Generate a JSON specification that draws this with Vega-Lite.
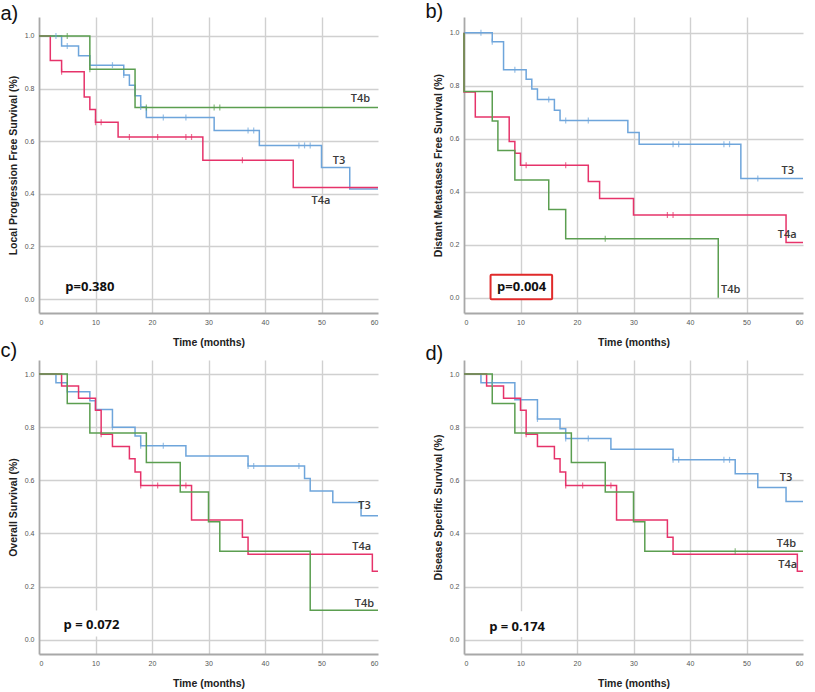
{
  "$schema": "https://vega.github.io/schema/vega-lite/v6.json",
  "padding": {"left": 0, "top": 2, "right": 5, "bottom": 4},
  "background": "white",
  "config": {
    "view": {"stroke": null},
    "axis": {
      "grid": true,
      "gridColor": "#d0d0d0",
      "gridWidth": 1.4,
      "domainColor": "#a8a8a8",
      "domainWidth": 1.8,
      "ticks": false,
      "labelFont": "Liberation Sans",
      "labelFontSize": 7,
      "labelColor": "#555555",
      "labelPadding": 5,
      "titleFont": "Liberation Sans",
      "titleFontSize": 10.5,
      "titleFontWeight": "bold",
      "titleColor": "#222222"
    },
    "axisX": {"titlePadding": 12},
    "axisY": {"titlePadding": 6},
    "title": {"anchor": "start", "frame": "group", "font": "Liberation Sans", "fontSize": 20, "fontWeight": "normal", "color": "#111111", "offset": 0, "baseline": "top"}
  },
  "datasets": {
    "km": [
      {"panel": "a", "group": "T3", "t": 0, "s": 1},
      {"panel": "a", "group": "T3", "t": 4, "s": 0.962},
      {"panel": "a", "group": "T3", "t": 7, "s": 0.925},
      {"panel": "a", "group": "T3", "t": 9, "s": 0.889},
      {"panel": "a", "group": "T3", "t": 15, "s": 0.852},
      {"panel": "a", "group": "T3", "t": 16, "s": 0.813},
      {"panel": "a", "group": "T3", "t": 17, "s": 0.773},
      {"panel": "a", "group": "T3", "t": 18, "s": 0.73},
      {"panel": "a", "group": "T3", "t": 19, "s": 0.69},
      {"panel": "a", "group": "T3", "t": 31, "s": 0.641},
      {"panel": "a", "group": "T3", "t": 39, "s": 0.584},
      {"panel": "a", "group": "T3", "t": 50, "s": 0.5},
      {"panel": "a", "group": "T3", "t": 55, "s": 0.418},
      {"panel": "a", "group": "T3", "t": 60, "s": 0.418},
      {"panel": "a", "group": "T4a", "t": 0, "s": 1},
      {"panel": "a", "group": "T4a", "t": 2, "s": 0.907},
      {"panel": "a", "group": "T4a", "t": 4, "s": 0.864},
      {"panel": "a", "group": "T4a", "t": 8, "s": 0.768},
      {"panel": "a", "group": "T4a", "t": 9, "s": 0.72},
      {"panel": "a", "group": "T4a", "t": 10, "s": 0.672},
      {"panel": "a", "group": "T4a", "t": 14, "s": 0.616},
      {"panel": "a", "group": "T4a", "t": 29, "s": 0.528},
      {"panel": "a", "group": "T4a", "t": 45, "s": 0.424},
      {"panel": "a", "group": "T4a", "t": 60, "s": 0.424},
      {"panel": "a", "group": "T4b", "t": 0, "s": 1},
      {"panel": "a", "group": "T4b", "t": 9, "s": 0.873},
      {"panel": "a", "group": "T4b", "t": 17, "s": 0.728},
      {"panel": "a", "group": "T4b", "t": 60, "s": 0.728},

      {"panel": "b", "group": "T3", "t": 0, "s": 1},
      {"panel": "b", "group": "T3", "t": 5, "s": 0.966},
      {"panel": "b", "group": "T3", "t": 7, "s": 0.86},
      {"panel": "b", "group": "T3", "t": 11, "s": 0.824},
      {"panel": "b", "group": "T3", "t": 12, "s": 0.787},
      {"panel": "b", "group": "T3", "t": 13, "s": 0.748},
      {"panel": "b", "group": "T3", "t": 16, "s": 0.707},
      {"panel": "b", "group": "T3", "t": 17, "s": 0.668},
      {"panel": "b", "group": "T3", "t": 29, "s": 0.623},
      {"panel": "b", "group": "T3", "t": 31, "s": 0.579},
      {"panel": "b", "group": "T3", "t": 49, "s": 0.45},
      {"panel": "b", "group": "T3", "t": 60, "s": 0.45},
      {"panel": "b", "group": "T4a", "t": 0, "s": 1},
      {"panel": "b", "group": "T4a", "t": 0, "s": 0.776},
      {"panel": "b", "group": "T4a", "t": 2, "s": 0.682},
      {"panel": "b", "group": "T4a", "t": 8, "s": 0.589},
      {"panel": "b", "group": "T4a", "t": 9, "s": 0.545},
      {"panel": "b", "group": "T4a", "t": 10, "s": 0.5},
      {"panel": "b", "group": "T4a", "t": 22, "s": 0.438},
      {"panel": "b", "group": "T4a", "t": 24, "s": 0.374},
      {"panel": "b", "group": "T4a", "t": 30, "s": 0.312},
      {"panel": "b", "group": "T4a", "t": 57, "s": 0.208},
      {"panel": "b", "group": "T4a", "t": 60, "s": 0.208},
      {"panel": "b", "group": "T4b", "t": 0, "s": 1},
      {"panel": "b", "group": "T4b", "t": 0, "s": 0.778},
      {"panel": "b", "group": "T4b", "t": 5, "s": 0.667},
      {"panel": "b", "group": "T4b", "t": 6, "s": 0.555},
      {"panel": "b", "group": "T4b", "t": 9, "s": 0.444},
      {"panel": "b", "group": "T4b", "t": 15, "s": 0.333},
      {"panel": "b", "group": "T4b", "t": 18, "s": 0.222},
      {"panel": "b", "group": "T4b", "t": 45, "s": 0},

      {"panel": "c", "group": "T3", "t": 0, "s": 1},
      {"panel": "c", "group": "T3", "t": 3, "s": 0.967},
      {"panel": "c", "group": "T3", "t": 5, "s": 0.933},
      {"panel": "c", "group": "T3", "t": 9, "s": 0.9},
      {"panel": "c", "group": "T3", "t": 10, "s": 0.867},
      {"panel": "c", "group": "T3", "t": 13, "s": 0.8},
      {"panel": "c", "group": "T3", "t": 17, "s": 0.767},
      {"panel": "c", "group": "T3", "t": 18, "s": 0.73},
      {"panel": "c", "group": "T3", "t": 26, "s": 0.692},
      {"panel": "c", "group": "T3", "t": 37, "s": 0.654},
      {"panel": "c", "group": "T3", "t": 47, "s": 0.607},
      {"panel": "c", "group": "T3", "t": 48, "s": 0.56},
      {"panel": "c", "group": "T3", "t": 52, "s": 0.516},
      {"panel": "c", "group": "T3", "t": 57, "s": 0.467},
      {"panel": "c", "group": "T3", "t": 60, "s": 0.467},
      {"panel": "c", "group": "T4a", "t": 0, "s": 1},
      {"panel": "c", "group": "T4a", "t": 4, "s": 0.955},
      {"panel": "c", "group": "T4a", "t": 7, "s": 0.909},
      {"panel": "c", "group": "T4a", "t": 10, "s": 0.864},
      {"panel": "c", "group": "T4a", "t": 11, "s": 0.773},
      {"panel": "c", "group": "T4a", "t": 13, "s": 0.727},
      {"panel": "c", "group": "T4a", "t": 16, "s": 0.681},
      {"panel": "c", "group": "T4a", "t": 17, "s": 0.631},
      {"panel": "c", "group": "T4a", "t": 18, "s": 0.58},
      {"panel": "c", "group": "T4a", "t": 27, "s": 0.451},
      {"panel": "c", "group": "T4a", "t": 36, "s": 0.386},
      {"panel": "c", "group": "T4a", "t": 37, "s": 0.322},
      {"panel": "c", "group": "T4a", "t": 59, "s": 0.258},
      {"panel": "c", "group": "T4a", "t": 60, "s": 0.258},
      {"panel": "c", "group": "T4b", "t": 0, "s": 1},
      {"panel": "c", "group": "T4b", "t": 5, "s": 0.889},
      {"panel": "c", "group": "T4b", "t": 9, "s": 0.778},
      {"panel": "c", "group": "T4b", "t": 19, "s": 0.667},
      {"panel": "c", "group": "T4b", "t": 25, "s": 0.556},
      {"panel": "c", "group": "T4b", "t": 30, "s": 0.444},
      {"panel": "c", "group": "T4b", "t": 32, "s": 0.333},
      {"panel": "c", "group": "T4b", "t": 48, "s": 0.111},
      {"panel": "c", "group": "T4b", "t": 60, "s": 0.111},

      {"panel": "d", "group": "T3", "t": 0, "s": 1},
      {"panel": "d", "group": "T3", "t": 3, "s": 0.967},
      {"panel": "d", "group": "T3", "t": 9, "s": 0.903},
      {"panel": "d", "group": "T3", "t": 13, "s": 0.831},
      {"panel": "d", "group": "T3", "t": 17, "s": 0.794},
      {"panel": "d", "group": "T3", "t": 18, "s": 0.757},
      {"panel": "d", "group": "T3", "t": 26, "s": 0.717},
      {"panel": "d", "group": "T3", "t": 37, "s": 0.677},
      {"panel": "d", "group": "T3", "t": 48, "s": 0.625},
      {"panel": "d", "group": "T3", "t": 52, "s": 0.573},
      {"panel": "d", "group": "T3", "t": 57, "s": 0.52},
      {"panel": "d", "group": "T3", "t": 60, "s": 0.52},
      {"panel": "d", "group": "T4a", "t": 0, "s": 1},
      {"panel": "d", "group": "T4a", "t": 4, "s": 0.955},
      {"panel": "d", "group": "T4a", "t": 7, "s": 0.909},
      {"panel": "d", "group": "T4a", "t": 10, "s": 0.864},
      {"panel": "d", "group": "T4a", "t": 11, "s": 0.773},
      {"panel": "d", "group": "T4a", "t": 13, "s": 0.727},
      {"panel": "d", "group": "T4a", "t": 16, "s": 0.681},
      {"panel": "d", "group": "T4a", "t": 17, "s": 0.631},
      {"panel": "d", "group": "T4a", "t": 18, "s": 0.58},
      {"panel": "d", "group": "T4a", "t": 27, "s": 0.451},
      {"panel": "d", "group": "T4a", "t": 36, "s": 0.386},
      {"panel": "d", "group": "T4a", "t": 37, "s": 0.322},
      {"panel": "d", "group": "T4a", "t": 59, "s": 0.258},
      {"panel": "d", "group": "T4a", "t": 60, "s": 0.258},
      {"panel": "d", "group": "T4b", "t": 0, "s": 1},
      {"panel": "d", "group": "T4b", "t": 5, "s": 0.889},
      {"panel": "d", "group": "T4b", "t": 9, "s": 0.778},
      {"panel": "d", "group": "T4b", "t": 19, "s": 0.667},
      {"panel": "d", "group": "T4b", "t": 25, "s": 0.556},
      {"panel": "d", "group": "T4b", "t": 30, "s": 0.444},
      {"panel": "d", "group": "T4b", "t": 32, "s": 0.333},
      {"panel": "d", "group": "T4b", "t": 60, "s": 0.333}
    ],
    "cens": [
      {"panel": "a", "group": "T3", "t": 3, "s": 1},
      {"panel": "a", "group": "T3", "t": 5, "s": 0.962},
      {"panel": "a", "group": "T3", "t": 13, "s": 0.889},
      {"panel": "a", "group": "T3", "t": 15, "s": 0.852},
      {"panel": "a", "group": "T3", "t": 18, "s": 0.73},
      {"panel": "a", "group": "T3", "t": 22, "s": 0.69},
      {"panel": "a", "group": "T3", "t": 26, "s": 0.69},
      {"panel": "a", "group": "T3", "t": 37, "s": 0.641},
      {"panel": "a", "group": "T3", "t": 38, "s": 0.641},
      {"panel": "a", "group": "T3", "t": 46, "s": 0.584},
      {"panel": "a", "group": "T3", "t": 47, "s": 0.584},
      {"panel": "a", "group": "T3", "t": 48, "s": 0.584},
      {"panel": "a", "group": "T4a", "t": 4, "s": 0.864},
      {"panel": "a", "group": "T4a", "t": 10, "s": 0.672},
      {"panel": "a", "group": "T4a", "t": 11, "s": 0.672},
      {"panel": "a", "group": "T4a", "t": 16, "s": 0.616},
      {"panel": "a", "group": "T4a", "t": 21, "s": 0.616},
      {"panel": "a", "group": "T4a", "t": 26, "s": 0.616},
      {"panel": "a", "group": "T4a", "t": 27, "s": 0.616},
      {"panel": "a", "group": "T4a", "t": 36, "s": 0.528},
      {"panel": "a", "group": "T4b", "t": 5, "s": 1},
      {"panel": "a", "group": "T4b", "t": 9, "s": 0.873},
      {"panel": "a", "group": "T4b", "t": 19, "s": 0.728},
      {"panel": "a", "group": "T4b", "t": 31, "s": 0.728},
      {"panel": "a", "group": "T4b", "t": 32, "s": 0.728},

      {"panel": "b", "group": "T3", "t": 3, "s": 1},
      {"panel": "b", "group": "T3", "t": 5, "s": 0.966},
      {"panel": "b", "group": "T3", "t": 9, "s": 0.86},
      {"panel": "b", "group": "T3", "t": 15, "s": 0.748},
      {"panel": "b", "group": "T3", "t": 18, "s": 0.668},
      {"panel": "b", "group": "T3", "t": 22, "s": 0.668},
      {"panel": "b", "group": "T3", "t": 37, "s": 0.579},
      {"panel": "b", "group": "T3", "t": 38, "s": 0.579},
      {"panel": "b", "group": "T3", "t": 46, "s": 0.579},
      {"panel": "b", "group": "T3", "t": 47, "s": 0.579},
      {"panel": "b", "group": "T3", "t": 52, "s": 0.45},
      {"panel": "b", "group": "T4a", "t": 11, "s": 0.5},
      {"panel": "b", "group": "T4a", "t": 18, "s": 0.5},
      {"panel": "b", "group": "T4a", "t": 36, "s": 0.312},
      {"panel": "b", "group": "T4a", "t": 37, "s": 0.312},
      {"panel": "b", "group": "T4b", "t": 25, "s": 0.222},

      {"panel": "c", "group": "T3", "t": 13, "s": 0.8},
      {"panel": "c", "group": "T3", "t": 18, "s": 0.73},
      {"panel": "c", "group": "T3", "t": 22, "s": 0.73},
      {"panel": "c", "group": "T3", "t": 37, "s": 0.654},
      {"panel": "c", "group": "T3", "t": 38, "s": 0.654},
      {"panel": "c", "group": "T3", "t": 46, "s": 0.654},
      {"panel": "c", "group": "T4a", "t": 11, "s": 0.773},
      {"panel": "c", "group": "T4a", "t": 18, "s": 0.58},
      {"panel": "c", "group": "T4a", "t": 21, "s": 0.58},
      {"panel": "c", "group": "T4a", "t": 26, "s": 0.58},

      {"panel": "d", "group": "T3", "t": 5, "s": 0.967},
      {"panel": "d", "group": "T3", "t": 13, "s": 0.831},
      {"panel": "d", "group": "T3", "t": 18, "s": 0.757},
      {"panel": "d", "group": "T3", "t": 22, "s": 0.757},
      {"panel": "d", "group": "T3", "t": 37, "s": 0.677},
      {"panel": "d", "group": "T3", "t": 38, "s": 0.677},
      {"panel": "d", "group": "T3", "t": 46, "s": 0.677},
      {"panel": "d", "group": "T3", "t": 47, "s": 0.677},
      {"panel": "d", "group": "T4a", "t": 11, "s": 0.773},
      {"panel": "d", "group": "T4a", "t": 18, "s": 0.58},
      {"panel": "d", "group": "T4a", "t": 21, "s": 0.58},
      {"panel": "d", "group": "T4a", "t": 26, "s": 0.58},
      {"panel": "d", "group": "T4b", "t": 48, "s": 0.333}
    ],
    "labels": [
      {"panel": "a", "kind": "curve", "label": "T4b", "t": 56.9, "s": 0.759},
      {"panel": "a", "kind": "curve", "label": "T3", "t": 53.1, "s": 0.526},
      {"panel": "a", "kind": "curve", "label": "T4a", "t": 49.9, "s": 0.373},
      {"panel": "a", "kind": "p", "label": "p=0.380", "t": 9.0, "s": 0.044},
      {"panel": "b", "kind": "curve", "label": "T3", "t": 57.3, "s": 0.479},
      {"panel": "b", "kind": "curve", "label": "T4a", "t": 57.2, "s": 0.237},
      {"panel": "b", "kind": "curve", "label": "T4b", "t": 47.2, "s": 0.029},
      {"panel": "b", "kind": "p", "label": "p=0.004", "t": 10.2, "s": 0.042},
      {"panel": "c", "kind": "curve", "label": "T3", "t": 57.6, "s": 0.505},
      {"panel": "c", "kind": "curve", "label": "T4a", "t": 57.1, "s": 0.348},
      {"panel": "c", "kind": "curve", "label": "T4b", "t": 57.6, "s": 0.134},
      {"panel": "c", "kind": "p", "label": "p = 0.072", "t": 9.3, "s": 0.056},
      {"panel": "d", "kind": "curve", "label": "T3", "t": 57.0, "s": 0.61},
      {"panel": "d", "kind": "curve", "label": "T4b", "t": 57.05, "s": 0.36},
      {"panel": "d", "kind": "curve", "label": "T4a", "t": 57.3, "s": 0.281},
      {"panel": "d", "kind": "p", "label": "p = 0.174", "t": 9.4, "s": 0.049}
    ],
    "boxes": [
      {"panel": "b", "kind": "frame", "t": 4.7, "t2": 15.6, "s": -0.006, "s2": 0.086},
      {"panel": "c", "kind": "mask", "t": 3.5, "t2": 15.2, "s": 0.012, "s2": 0.11},
      {"panel": "d", "kind": "mask", "t": 3.5, "t2": 15.3, "s": 0.01, "s2": 0.107}
    ]
  },
  "concat": [
    {
      "width": 339, "height": 296,
      "title": {"text": "a)", "dx": -38.5, "dy": 11},
      "encoding": {
        "x": {"field": "t", "type": "quantitative", "scale": {"domain": [0, 60], "nice": false, "zero": false}, "axis": {"title": "Time (months)", "values": [0, 10, 20, 30, 40, 50, 60], "gridOpacity": {"condition": {"test": "datum.value == 0 || datum.value == 60", "value": 0}, "value": 1}}},
        "y": {"field": "s", "type": "quantitative", "scale": {"domain": [-0.053, 1.072], "nice": false, "zero": false}, "axis": {"title": "Local Progression Free Survival (%)", "values": [0, 0.2, 0.4, 0.6, 0.8, 1], "format": ".1f"}}
      },
      "layer": [
        {"data": {"name": "km"}, "transform": [{"filter": "datum.panel == 'a'"}], "mark": {"type": "line", "interpolate": "step-after", "strokeWidth": 1.5}, "encoding": {"color": {"field": "group", "type": "nominal", "scale": {"domain": ["T3", "T4a", "T4b"], "range": ["#6ea5db", "#e6336a", "#5b9e50"]}, "legend": null}, "order": {"value": null}}},
        {"data": {"name": "cens"}, "transform": [{"filter": "datum.panel == 'a'"}], "mark": {"type": "tick", "orient": "vertical", "size": 6, "thickness": 1.2}, "encoding": {"color": {"field": "group", "type": "nominal", "scale": {"domain": ["T3", "T4a", "T4b"], "range": ["#6ea5db", "#e6336a", "#5b9e50"]}, "legend": null}}},
        {"data": {"name": "labels"}, "transform": [{"filter": "datum.panel == 'a' && datum.kind == 'curve'"}], "mark": {"type": "text", "font": "Open Sans", "fontSize": 11, "fontWeight": 600, "color": "#3a3a3a"}, "encoding": {"text": {"field": "label"}}},
        {"data": {"name": "labels"}, "transform": [{"filter": "datum.panel == 'a' && datum.kind == 'p'"}], "mark": {"type": "text", "font": "Open Sans", "fontSize": 13, "fontWeight": "bold", "color": "#111111"}, "encoding": {"text": {"field": "label"}}}
      ]
    },
    {
      "width": 339, "height": 296,
      "title": {"text": "b)", "dx": -38.5, "dy": 9},
      "encoding": {
        "x": {"field": "t", "type": "quantitative", "scale": {"domain": [0, 60], "nice": false, "zero": false}, "axis": {"title": "Time (months)", "values": [0, 10, 20, 30, 40, 50, 60], "gridOpacity": {"condition": {"test": "datum.value == 0 || datum.value == 60", "value": 0}, "value": 1}}},
        "y": {"field": "s", "type": "quantitative", "scale": {"domain": [-0.058, 1.059], "nice": false, "zero": false}, "axis": {"title": "Distant Metastases Free Survival (%)", "values": [0, 0.2, 0.4, 0.6, 0.8, 1], "format": ".1f"}}
      },
      "layer": [
        {"data": {"name": "km"}, "transform": [{"filter": "datum.panel == 'b'"}], "mark": {"type": "line", "interpolate": "step-after", "strokeWidth": 1.5}, "encoding": {"color": {"field": "group", "type": "nominal", "scale": {"domain": ["T3", "T4a", "T4b"], "range": ["#6ea5db", "#e6336a", "#5b9e50"]}, "legend": null}, "order": {"value": null}}},
        {"data": {"name": "cens"}, "transform": [{"filter": "datum.panel == 'b'"}], "mark": {"type": "tick", "orient": "vertical", "size": 6, "thickness": 1.2}, "encoding": {"color": {"field": "group", "type": "nominal", "scale": {"domain": ["T3", "T4a", "T4b"], "range": ["#6ea5db", "#e6336a", "#5b9e50"]}, "legend": null}}},
        {"data": {"name": "boxes"}, "transform": [{"filter": "datum.panel == 'b'"}], "mark": {"type": "rect", "fill": "white", "stroke": "#e02a2a", "strokeWidth": 2, "cornerRadius": 1}, "encoding": {"x2": {"field": "t2"}, "y2": {"field": "s2"}}},
        {"data": {"name": "labels"}, "transform": [{"filter": "datum.panel == 'b' && datum.kind == 'curve'"}], "mark": {"type": "text", "font": "Open Sans", "fontSize": 11, "fontWeight": 600, "color": "#3a3a3a"}, "encoding": {"text": {"field": "label"}}},
        {"data": {"name": "labels"}, "transform": [{"filter": "datum.panel == 'b' && datum.kind == 'p'"}], "mark": {"type": "text", "font": "Open Sans", "fontSize": 13, "fontWeight": "bold", "color": "#111111"}, "encoding": {"text": {"field": "label"}}}
      ]
    },
    {
      "width": 339, "height": 294,
      "title": {"text": "c)", "dx": -38.5, "dy": 5},
      "encoding": {
        "x": {"field": "t", "type": "quantitative", "scale": {"domain": [0, 60], "nice": false, "zero": false}, "axis": {"title": "Time (months)", "values": [0, 10, 20, 30, 40, 50, 60], "gridOpacity": {"condition": {"test": "datum.value == 0 || datum.value == 60", "value": 0}, "value": 1}}},
        "y": {"field": "s", "type": "quantitative", "scale": {"domain": [-0.054, 1.053], "nice": false, "zero": false}, "axis": {"title": "Overall Survival (%)", "values": [0, 0.2, 0.4, 0.6, 0.8, 1], "format": ".1f"}}
      },
      "layer": [
        {"data": {"name": "boxes"}, "transform": [{"filter": "datum.panel == 'c'"}], "mark": {"type": "rect", "fill": "white", "stroke": null}, "encoding": {"x2": {"field": "t2"}, "y2": {"field": "s2"}}},
        {"data": {"name": "km"}, "transform": [{"filter": "datum.panel == 'c'"}], "mark": {"type": "line", "interpolate": "step-after", "strokeWidth": 1.5}, "encoding": {"color": {"field": "group", "type": "nominal", "scale": {"domain": ["T3", "T4a", "T4b"], "range": ["#6ea5db", "#e6336a", "#5b9e50"]}, "legend": null}, "order": {"value": null}}},
        {"data": {"name": "cens"}, "transform": [{"filter": "datum.panel == 'c'"}], "mark": {"type": "tick", "orient": "vertical", "size": 6, "thickness": 1.2}, "encoding": {"color": {"field": "group", "type": "nominal", "scale": {"domain": ["T3", "T4a", "T4b"], "range": ["#6ea5db", "#e6336a", "#5b9e50"]}, "legend": null}}},
        {"data": {"name": "labels"}, "transform": [{"filter": "datum.panel == 'c' && datum.kind == 'curve'"}], "mark": {"type": "text", "font": "Open Sans", "fontSize": 11, "fontWeight": 600, "color": "#3a3a3a"}, "encoding": {"text": {"field": "label"}}},
        {"data": {"name": "labels"}, "transform": [{"filter": "datum.panel == 'c' && datum.kind == 'p'"}], "mark": {"type": "text", "font": "Open Sans", "fontSize": 13, "fontWeight": "bold", "color": "#111111"}, "encoding": {"text": {"field": "label"}}}
      ]
    },
    {
      "width": 339, "height": 294,
      "title": {"text": "d)", "dx": -38.5, "dy": 8},
      "encoding": {
        "x": {"field": "t", "type": "quantitative", "scale": {"domain": [0, 60], "nice": false, "zero": false}, "axis": {"title": "Time (months)", "values": [0, 10, 20, 30, 40, 50, 60], "gridOpacity": {"condition": {"test": "datum.value == 0 || datum.value == 60", "value": 0}, "value": 1}}},
        "y": {"field": "s", "type": "quantitative", "scale": {"domain": [-0.054, 1.053], "nice": false, "zero": false}, "axis": {"title": "Disease Specific Survival (%)", "values": [0, 0.2, 0.4, 0.6, 0.8, 1], "format": ".1f"}}
      },
      "layer": [
        {"data": {"name": "boxes"}, "transform": [{"filter": "datum.panel == 'd'"}], "mark": {"type": "rect", "fill": "white", "stroke": null}, "encoding": {"x2": {"field": "t2"}, "y2": {"field": "s2"}}},
        {"data": {"name": "km"}, "transform": [{"filter": "datum.panel == 'd'"}], "mark": {"type": "line", "interpolate": "step-after", "strokeWidth": 1.5}, "encoding": {"color": {"field": "group", "type": "nominal", "scale": {"domain": ["T3", "T4a", "T4b"], "range": ["#6ea5db", "#e6336a", "#5b9e50"]}, "legend": null}, "order": {"value": null}}},
        {"data": {"name": "cens"}, "transform": [{"filter": "datum.panel == 'd'"}], "mark": {"type": "tick", "orient": "vertical", "size": 6, "thickness": 1.2}, "encoding": {"color": {"field": "group", "type": "nominal", "scale": {"domain": ["T3", "T4a", "T4b"], "range": ["#6ea5db", "#e6336a", "#5b9e50"]}, "legend": null}}},
        {"data": {"name": "labels"}, "transform": [{"filter": "datum.panel == 'd' && datum.kind == 'curve'"}], "mark": {"type": "text", "font": "Open Sans", "fontSize": 11, "fontWeight": 600, "color": "#3a3a3a"}, "encoding": {"text": {"field": "label"}}},
        {"data": {"name": "labels"}, "transform": [{"filter": "datum.panel == 'd' && datum.kind == 'p'"}], "mark": {"type": "text", "font": "Open Sans", "fontSize": 13, "fontWeight": "bold", "color": "#111111"}, "encoding": {"text": {"field": "label"}}}
      ]
    }
  ],
  "columns": 2,
  "spacing": {"row": 47, "column": 86},
  "bounds": "flush"
}
